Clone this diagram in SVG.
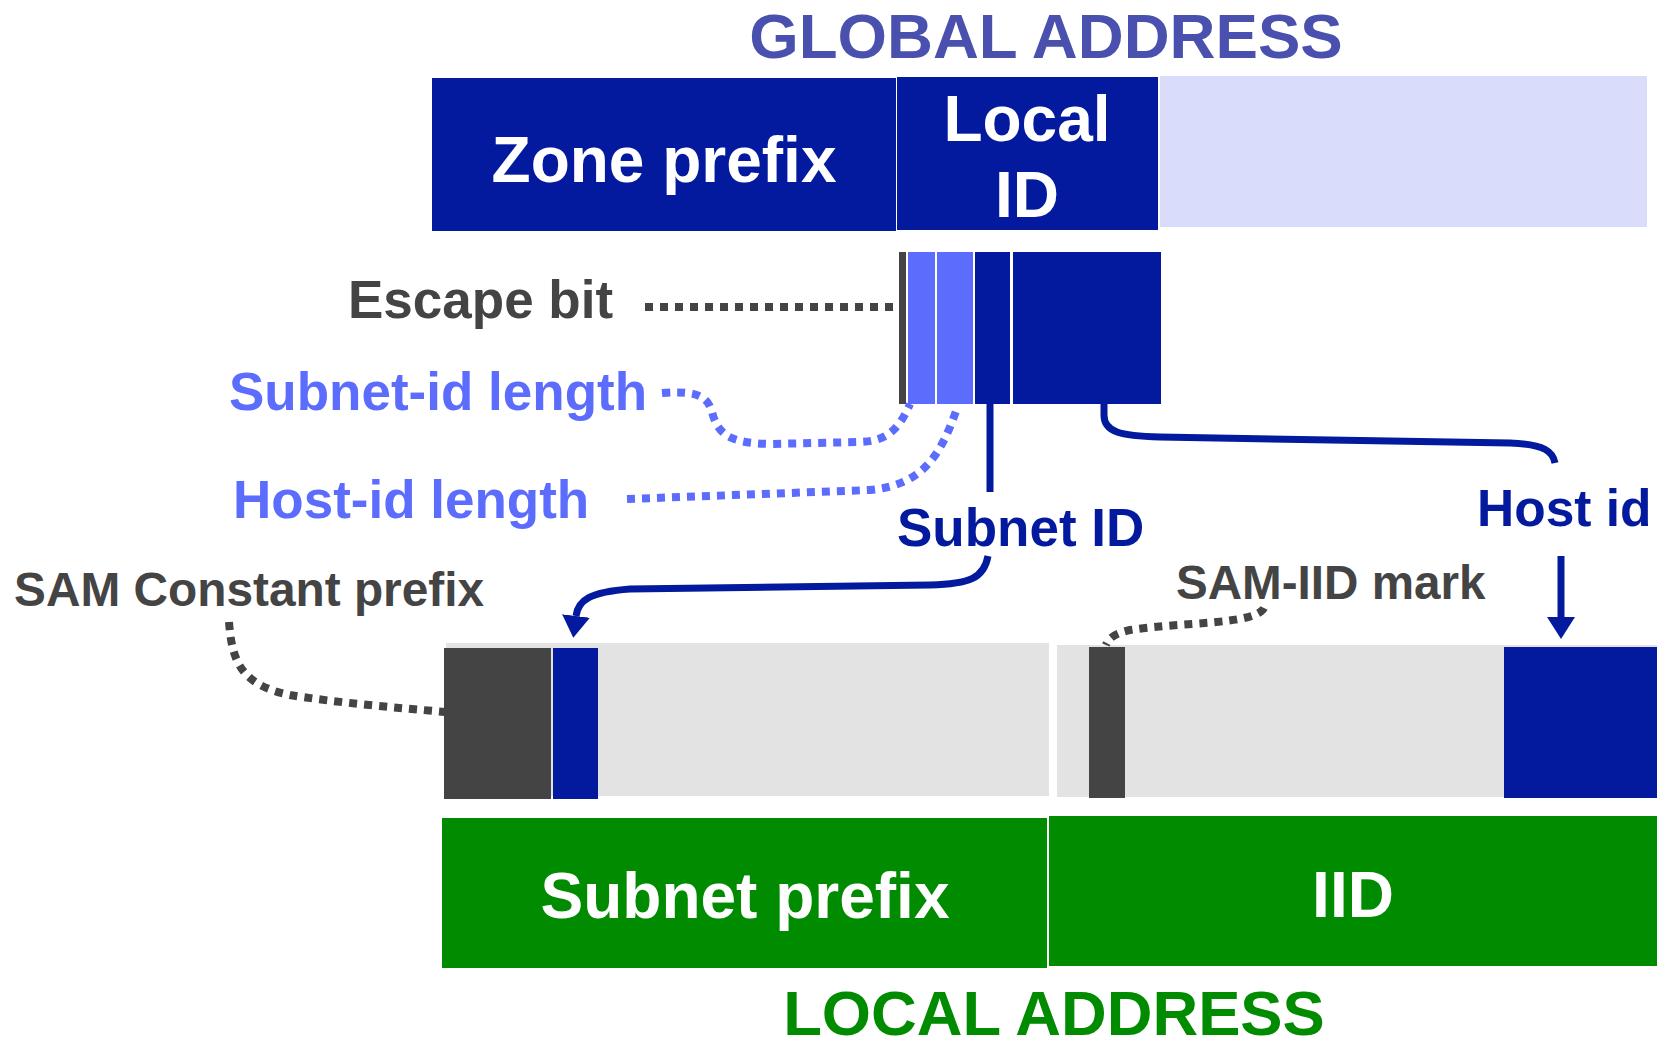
<svg xmlns="http://www.w3.org/2000/svg" width="1661" height="1042" viewBox="0 0 1661 1042">
  <style>
    text { font-family: "Liberation Sans", Arial, sans-serif; font-weight: bold; }
    .white { fill: #ffffff; font-size: 64px; text-anchor: middle; }
    .grey-t { fill: #444444; }
    .blue-t { fill: #031a9e; }
    .light-t { fill: #5c6dfe; }
    .dark { fill: #031a9e; }
    .light { fill: #5c6dfe; }
    .lav { fill: #d9dcfb; }
    .grey { fill: #444444; }
    .pale { fill: #e3e3e3; }
    .green { fill: #018b01; }
    .dots { fill: none; stroke-width: 8; stroke-dasharray: 8 7; }
    .conn { fill: none; stroke: #031a9e; stroke-width: 7; }
  </style>
  <defs>
    <marker id="arrow" markerUnits="userSpaceOnUse" markerWidth="22" markerHeight="28" viewBox="0 0 22 28" refX="0" refY="14" orient="auto">
      <path d="M0,0 L22,14 L0,28 z" fill="#031a9e"/>
    </marker>
  </defs>
  <rect width="1661" height="1042" fill="#ffffff"/>

  <!-- global address -->
  <text x="1046" y="58" font-size="63.6" text-anchor="middle" fill="#4a50ae">GLOBAL ADDRESS</text>
  <g id="zone-prefix">
    <rect class="dark" x="432" y="78" width="464" height="153"/>
    <text class="white" x="664" y="182">Zone prefix</text>
  </g>
  <g id="local-id">
    <rect class="dark" x="897" y="77" width="261" height="153"/>
    <text class="white" x="1027" y="141">Local</text>
    <text class="white" x="1027" y="217">ID</text>
  </g>
  <g id="global-rest">
    <rect class="lav" x="1160" y="76" width="487" height="151"/>
  </g>

  <!-- local ID breakdown -->
  <g id="local-id-fields">
    <rect class="grey" x="899" y="252" width="7" height="152"/>
    <rect class="light" x="908" y="252" width="27" height="152"/>
    <rect class="light" x="937" y="252" width="36" height="152"/>
    <rect class="dark" x="975" y="252" width="35" height="152"/>
    <rect class="dark" x="1013" y="252" width="148" height="152"/>
  </g>

  <!-- field labels -->
  <g id="escape-bit-label">
    <text class="grey-t" x="348" y="318" font-size="53">Escape bit</text>
  </g>
  <g id="subnet-id-length-label">
    <text class="light-t" x="229" y="410" font-size="53">Subnet-id length</text>
  </g>
  <g id="host-id-length-label">
    <text class="light-t" x="233" y="518" font-size="53">Host-id length</text>
  </g>
  <g id="subnet-id-label">
    <text class="blue-t" x="897" y="546" font-size="53">Subnet ID</text>
  </g>
  <g id="host-id-label">
    <text class="blue-t" x="1477" y="526" font-size="51.5">Host id</text>
  </g>
  <g id="sam-constant-label">
    <text class="grey-t" x="14" y="606" font-size="47.8">SAM Constant prefix</text>
  </g>
  <g id="sam-iid-label">
    <text class="grey-t" x="1176" y="599" font-size="47.6">SAM-IID mark</text>
  </g>

  <!-- local address -->
  <g id="subnet-part">
    <rect class="pale" x="446" y="643" width="603" height="153"/>
    <rect class="grey" x="444" y="648" width="107" height="151"/>
    <rect class="dark" x="553" y="648" width="45" height="151"/>
  </g>
  <g id="iid-part">
    <rect class="pale" x="1057" y="645" width="600" height="152"/>
    <rect class="grey" x="1089" y="647" width="36" height="151"/>
    <rect class="dark" x="1504" y="647" width="153" height="151"/>
  </g>
  <g id="subnet-prefix">
    <rect class="green" x="442" y="818" width="605" height="150"/>
    <text class="white" x="745" y="918">Subnet prefix</text>
  </g>
  <g id="iid">
    <rect class="green" x="1049" y="816" width="608" height="150"/>
    <text class="white" x="1353" y="917">IID</text>
  </g>
  <text x="1054" y="1035" font-size="63.3" text-anchor="middle" fill="#018b01">LOCAL ADDRESS</text>

  <!-- connectors -->
  <g id="connectors">
    <path class="dots" stroke="#444444" d="M645,307 L896,307"/>
    <path class="dots" stroke="#5c6dfe" d="M662,393 C700,390 708,398 712,412 C718,435 730,443 770,444 L860,442 C885,441 898,432 910,404"/>
    <path class="dots" stroke="#5c6dfe" d="M627,499 L870,490 C920,485 940,460 958,405"/>
    <path class="conn" d="M990,404 L990,492"/>
    <path class="conn" d="M1104,404 L1104,415 C1104,432 1120,436 1160,437 L1510,443 C1545,444 1553,452 1555,463"/>
    <path class="conn" d="M988,556 C984,578 970,584 930,585 L630,589 C590,592 578,600 576,616" marker-end="url(#arrow)"/>
    <path class="conn" d="M1561,556 L1561,617" marker-end="url(#arrow)"/>
    <path class="dots" stroke="#444444" d="M229,622 C232,660 240,685 290,695 C330,702 400,708 445,712"/>
    <path class="dots" stroke="#444444" d="M1264,608 C1255,625 1180,622 1130,630 C1112,634 1108,640 1106,645"/>
  </g>
</svg>
